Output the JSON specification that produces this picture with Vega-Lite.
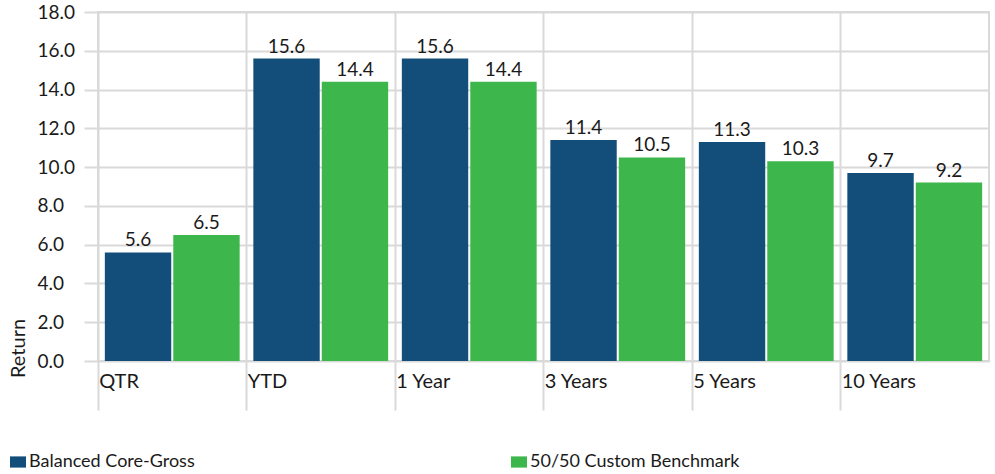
{
  "$schema": "https://vega.github.io/schema/vega-lite/v6.json",
  "width": 891,
  "height": 349,
  "autosize": {"type": "none"},
  "padding": {"left": 98, "top": 12, "right": 6, "bottom": 113},
  "config": {
    "font": "Lato",
    "view": {"stroke": "#d9d9d9", "strokeWidth": 2},
    "text": {"font": "Lato"}
  },
  "data": {
    "values": [
      {"period": "QTR", "series": "Balanced Core-Gross", "value": 5.6},
      {"period": "QTR", "series": "50/50 Custom Benchmark", "value": 6.5},
      {"period": "YTD", "series": "Balanced Core-Gross", "value": 15.6},
      {"period": "YTD", "series": "50/50 Custom Benchmark", "value": 14.4},
      {"period": "1 Year", "series": "Balanced Core-Gross", "value": 15.6},
      {"period": "1 Year", "series": "50/50 Custom Benchmark", "value": 14.4},
      {"period": "3 Years", "series": "Balanced Core-Gross", "value": 11.4},
      {"period": "3 Years", "series": "50/50 Custom Benchmark", "value": 10.5},
      {"period": "5 Years", "series": "Balanced Core-Gross", "value": 11.3},
      {"period": "5 Years", "series": "50/50 Custom Benchmark", "value": 10.3},
      {"period": "10 Years", "series": "Balanced Core-Gross", "value": 9.7},
      {"period": "10 Years", "series": "50/50 Custom Benchmark", "value": 9.2}
    ]
  },
  "encoding": {
    "x": {
      "field": "period",
      "type": "nominal",
      "sort": null,
      "scale": {"paddingInner": 0, "paddingOuter": 0},
      "axis": {
        "title": null,
        "bandPosition": 0,
        "domain": false,
        "grid": true,
        "gridColor": "#d9d9d9",
        "gridWidth": 2,
        "ticks": true,
        "tickColor": "#d9d9d9",
        "tickWidth": 2,
        "tickSize": 49,
        "labelAlign": "left",
        "labelBaseline": "top",
        "labelPadding": -39,
        "labelOffset": -73,
        "labelFontSize": 20,
        "labelColor": "#1a1a1a",
        "labelFont": "Lato",
        "labelAngle": 0
      }
    },
    "xOffset": {
      "field": "series",
      "type": "nominal",
      "sort": ["Balanced Core-Gross", "50/50 Custom Benchmark"],
      "scale": {"paddingInner": 0.03, "paddingOuter": 0.1}
    },
    "y": {
      "field": "value",
      "type": "quantitative",
      "scale": {"domain": [0, 18], "nice": false},
      "axis": {
        "title": "Return",
        "titleFont": "Lato",
        "titleFontSize": 20,
        "titleFontWeight": "normal",
        "titleColor": "#1a1a1a",
        "titleAngle": -90,
        "titleAlign": "center",
        "titleBaseline": "bottom",
        "titleX": -70,
        "titleY": 336,
        "values": [0, 2, 4, 6, 8, 10, 12, 14, 16, 18],
        "format": ".1f",
        "domain": false,
        "grid": true,
        "gridColor": "#d9d9d9",
        "gridWidth": 2,
        "ticks": true,
        "tickColor": "#d9d9d9",
        "tickWidth": 2,
        "tickSize": 14,
        "labelAlign": "left",
        "labelPadding": 47,
        "labelFontSize": 19,
        "labelColor": "#1a1a1a",
        "labelFont": "Lato"
      }
    }
  },
  "layer": [
    {
      "mark": {"type": "bar"},
      "encoding": {
        "color": {
          "field": "series",
          "type": "nominal",
          "sort": ["Balanced Core-Gross", "50/50 Custom Benchmark"],
          "scale": {
            "domain": ["Balanced Core-Gross", "50/50 Custom Benchmark"],
            "range": ["#134e7a", "#3db64c"]
          },
          "legend": {
            "title": null,
            "orient": "none",
            "direction": "horizontal",
            "legendX": -89,
            "legendY": 441,
            "columnPadding": 315,
            "symbolType": "M-1,-0.7H1V0.7H-1Z",
            "symbolSize": 256,
            "symbolStrokeWidth": 0,
            "symbolOpacity": 1,
            "labelOffset": 2,
            "labelFontSize": 18,
            "labelLimit": 400,
            "labelFont": "Lato",
            "labelColor": "#1a1a1a"
          }
        }
      }
    },
    {
      "mark": {"type": "text", "baseline": "alphabetic", "dy": -6, "fontSize": 19, "color": "#1a1a1a"},
      "encoding": {
        "text": {"field": "value", "type": "quantitative", "format": ".1f"}
      }
    }
  ]
}
